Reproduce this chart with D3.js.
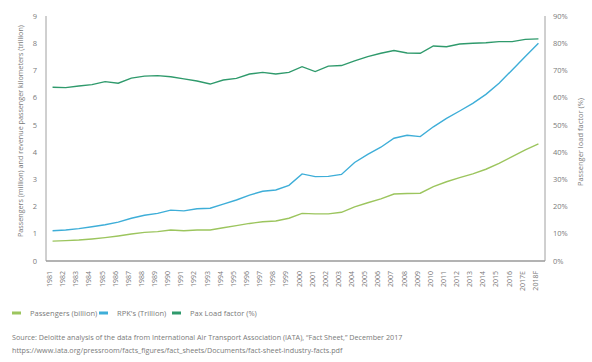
<!DOCTYPE html>
<html>
<head>
<meta charset="utf-8">
<script src="https://cdn.jsdelivr.net/npm/d3@7"></script>
<style>
  body { margin: 0; background: #fff; }
  svg { display: block; font-family: "Open Sans", sans-serif; }
  text { fill: #7a7a7a; }
</style>
</head>
<body>
<div id="chart"></div>
<script>
const years = ["1981","1982","1983","1984","1985","1986","1987","1988","1989","1990",
  "1991","1992","1993","1994","1995","1996","1997","1998","1999","2000",
  "2001","2002","2003","2004","2005","2006","2007","2008","2009","2010",
  "2011","2012","2013","2014","2015","2016","2017E","2018F"];

// passengers (billion)
const passengers = [0.73,0.75,0.77,0.81,0.86,0.92,0.99,1.05,1.08,1.14,
  1.11,1.14,1.14,1.22,1.30,1.38,1.44,1.47,1.57,1.75,
  1.73,1.73,1.79,1.99,2.14,2.28,2.46,2.48,2.49,2.73,
  2.91,3.06,3.20,3.37,3.59,3.83,4.08,4.30];

// RPK's (trillion)
const rpk = [1.11,1.14,1.19,1.26,1.33,1.43,1.57,1.68,1.75,1.87,
  1.84,1.92,1.94,2.09,2.24,2.42,2.56,2.61,2.78,3.20,
  3.10,3.11,3.18,3.62,3.92,4.18,4.51,4.62,4.57,4.93,
  5.24,5.51,5.79,6.12,6.53,7.02,7.51,8.00];

// pax load factor (%)
const loadFactor = [63.8,63.7,64.3,64.8,65.9,65.3,67.2,67.9,68.1,67.7,
  66.9,66.1,65.0,66.5,67.1,68.7,69.3,68.7,69.3,71.4,
  69.6,71.6,71.8,73.5,75.1,76.3,77.3,76.4,76.3,79.0,
  78.7,79.7,80.0,80.2,80.6,80.6,81.4,81.6];

const leftTicks = [0,1,2,3,4,5,6,7,8,9];
const rightTicks = [0,10,20,30,40,50,60,70,80,90];

const legendItems = [
  { name: "Passengers (billion)", color: "#9cc55e" },
  { name: "RPK's (Trillion)", color: "#3eaed8" },
  { name: "Pax Load factor (%)", color: "#2f9a6c" }
];

const sourceText = "Source: Deloitte analysis of the data from International Air Transport Association (IATA), \u201cFact Sheet,\u201d December 2017";
const urlText = "https://www.iata.org/pressroom/facts_figures/fact_sheets/Documents/fact-sheet-industry-facts.pdf";

const W = 592, H = 362;
const plot = { left: 46, right: 545, top: 16, bottom: 261 };

const svg = d3.select("#chart").append("svg")
  .attr("width", W)
  .attr("height", H);

const x = d3.scalePoint()
  .domain(years)
  .range([plot.left, plot.right])
  .padding(0.5);

const yL = d3.scaleLinear().domain([0, 9]).range([plot.bottom, plot.top]);
const yR = d3.scaleLinear().domain([0, 90]).range([plot.bottom, plot.top]);

// axes lines
svg.append("line")
  .attr("x1", plot.left).attr("x2", plot.left)
  .attr("y1", plot.top).attr("y2", plot.bottom)
  .attr("stroke", "#a0a0a0").attr("stroke-width", 1);
svg.append("line")
  .attr("x1", plot.right).attr("x2", plot.right)
  .attr("y1", plot.top).attr("y2", plot.bottom)
  .attr("stroke", "#a0a0a0").attr("stroke-width", 1);
svg.append("line")
  .attr("x1", plot.left).attr("x2", plot.right)
  .attr("y1", plot.bottom).attr("y2", plot.bottom)
  .attr("stroke", "#9a9a9a").attr("stroke-width", 1.3);

// tick labels
svg.selectAll(".lt").data(leftTicks).enter().append("text")
  .attr("x", 37).attr("y", d => yL(d)).attr("dy", "0.35em")
  .attr("text-anchor", "end").style("font-size", "7.5px")
  .text(d => d);

svg.selectAll(".rt").data(rightTicks).enter().append("text")
  .attr("x", 553).attr("y", d => yR(d)).attr("dy", "0.35em")
  .attr("text-anchor", "start").style("font-size", "7.5px")
  .text(d => d + "%");

svg.selectAll(".xt").data(years).enter().append("text")
  .attr("transform", d => `translate(${x(d) - 3},271) rotate(-90)`)
  .attr("dy", "0.35em")
  .attr("text-anchor", "end").style("font-size", "7px")
  .text(d => d);

// axis titles
svg.append("text")
  .attr("transform", "translate(20,131) rotate(-90)")
  .attr("dy", "0.35em").attr("text-anchor", "middle")
  .style("font-size", "7.2px")
  .text("Passengers (million) and revenue passenger kilometers (trillion)");

svg.append("text")
  .attr("transform", "translate(580,142) rotate(-90)")
  .attr("dy", "0.35em").attr("text-anchor", "middle")
  .style("font-size", "7.5px")
  .text("Passenger load factor (%)");

// lines
const lineL = d3.line().x((d, i) => x(years[i])).y(d => yL(d));
const lineR = d3.line().x((d, i) => x(years[i])).y(d => yR(d));

svg.append("path").datum(loadFactor)
  .attr("d", lineR).attr("fill", "none")
  .attr("stroke", legendItems[2].color).attr("stroke-width", 1.4);
svg.append("path").datum(rpk)
  .attr("d", lineL).attr("fill", "none")
  .attr("stroke", legendItems[1].color).attr("stroke-width", 1.4);
svg.append("path").datum(passengers)
  .attr("d", lineL).attr("fill", "none")
  .attr("stroke", legendItems[0].color).attr("stroke-width", 1.4);

// legend
const legendX = [12, 99, 172];
const lg = svg.selectAll(".lg").data(legendItems).enter().append("g")
  .attr("transform", (d, i) => `translate(${legendX[i]},313)`);
lg.append("rect")
  .attr("x", 0).attr("y", -1.5).attr("width", 9).attr("height", 3)
  .attr("fill", d => d.color);
lg.append("text")
  .attr("x", 18).attr("dy", "0.35em")
  .style("font-size", "7.5px")
  .text(d => d.name);

// source
svg.append("text").attr("x", 12).attr("y", 340)
  .style("font-size", "7.2px").text(sourceText);
svg.append("text").attr("x", 12).attr("y", 353)
  .style("font-size", "7.2px").text(urlText);
</script>
</body>
</html>
